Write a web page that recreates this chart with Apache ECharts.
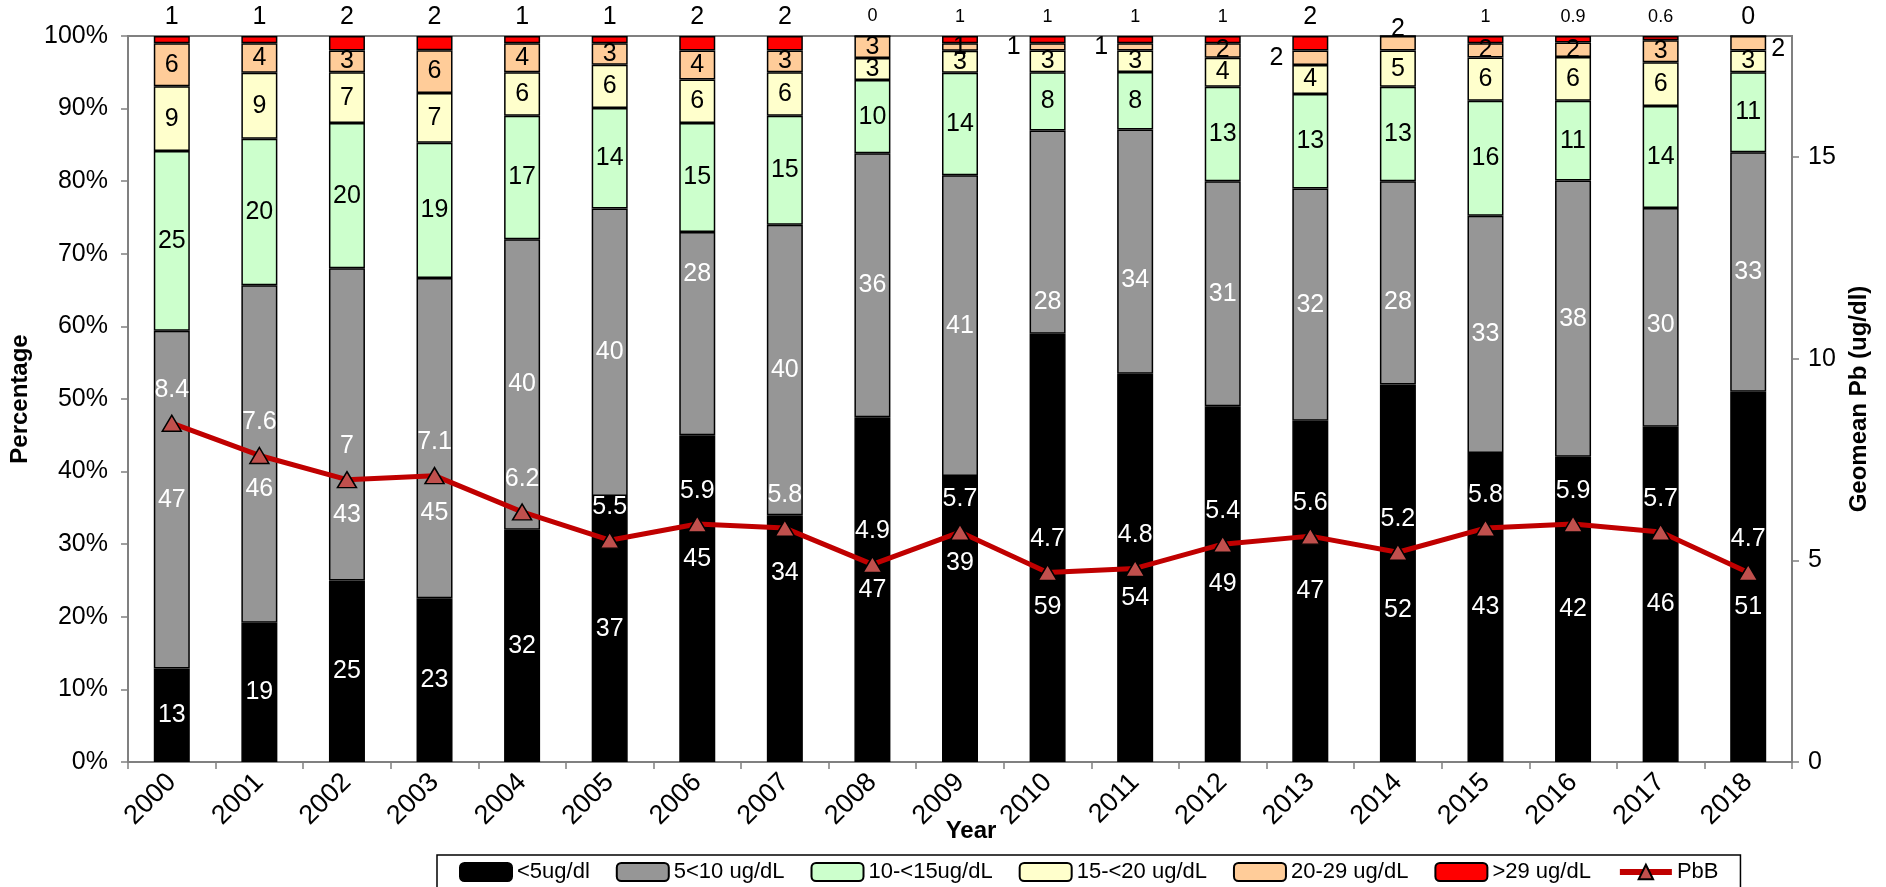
<!DOCTYPE html>
<html>
<head>
<meta charset="utf-8">
<script src="https://cdn.jsdelivr.net/npm/echarts@6/dist/echarts.min.js"></script>
<style>
  html, body { margin: 0; padding: 0; background: #ffffff; }
  #chart { width: 1886px; height: 887px; }
</style>
</head>
<body>
<div id="chart"></div>
<script>
// Blood lead level distribution by year (percent of children tested) and geometric mean PbB
const years = ['2000','2001','2002','2003','2004','2005','2006','2007','2008','2009',
               '2010','2011','2012','2013','2014','2015','2016','2017','2018'];
const below5     = [13, 19, 25, 23, 32, 37, 45, 34, 47, 39, 59, 54, 49, 47, 52, 43, 42, 46, 51];
const from5to10  = [47, 46, 43, 45, 40, 40, 28, 40, 36, 41, 28, 34, 31, 32, 28, 33, 38, 30, 33];
const from10to15 = [25, 20, 20, 19, 17, 14, 15, 15, 10, 14,  8,  8, 13, 13, 13, 16, 11, 14, 11];
const from15to20 = [ 9,  9,  7,  7,  6,  6,  6,  6,  3,  3,  3,  3,  4,  4,  5,  6,  6,  6,  3];
const from20to29 = [ 6,  4,  3,  6,  4,  3,  4,  3,  3,  1,  1,  1,  2,  2,  2,  2,  2,  3,  2];
const above29    = [ 1,  1,  2,  2,  1,  1,  2,  2,  0,  1,  1,  1,  1,  2,  0,  1, 0.9, 0.6, 0];
const geomeanPb  = [8.4, 7.6, 7, 7.1, 6.2, 5.5, 5.9, 5.8, 4.9, 5.7, 4.7, 4.8, 5.4, 5.6, 5.2, 5.8, 5.9, 5.7, 4.7];
const percentAxis = { min: 0, max: 100, interval: 10 };
const pbAxis = { min: 0, max: 18, interval: 5 };

const FONT = '"Liberation Sans", Arial, sans-serif';

// label adjustments, so segment labels stay clear of the PbB labels
const blackLabelShift = { 6: -40, 7: -65, 9: -56, 10: 59, 11: 30, 14: 37, 17: 10, 18: 30 };
const grayLabelShift  = { 1: 35, 2: 91, 3: 75, 6: -60, 10: 70, 11: 28, 14: 19, 17: 8 };
const peachLabelSide  = { 10: 'left', 11: 'left', 13: 'left', 14: 'top', 18: 'right' };
const smallTopLabels  = [8, 9, 10, 11, 12, 15, 16, 17];
const hiddenTopLabels = [14];

const bands = [
  { name: '<5ug/dl',      values: below5,     color: '#000000', text: '#ffffff' },
  { name: '5<10 ug/dL',   values: from5to10,  color: '#969696', text: '#ffffff' },
  { name: '10-<15ug/dL',  values: from10to15, color: '#CCFFCC', text: '#000000' },
  { name: '15-<20 ug/dL', values: from15to20, color: '#FFFFCC', text: '#000000' },
  { name: '20-29 ug/dL',  values: from20to29, color: '#FFCC99', text: '#000000' },
  { name: '>29 ug/dL',    values: above29,    color: '#FF0000', text: '#000000' }
];

// each column is shown as a 100% stack
const totals = years.map((_, i) => bands.reduce((s, b) => s + b.values[i], 0));

function itemLabel(k, i) {
  if (k === 0 && blackLabelShift[i]) return { offset: [0, blackLabelShift[i]] };
  if (k === 1 && grayLabelShift[i]) return { offset: [0, grayLabelShift[i]] };
  if (k === 4 && peachLabelSide[i]) {
    const side = peachLabelSide[i];
    if (side === 'top') return { position: 'top', distance: -6 };
    if (side === 'right') return { position: 'right', distance: 5, offset: [0, 6] };
    return { position: side, distance: 9 };
  }
  if (k === 5 && hiddenTopLabels.indexOf(i) >= 0) return { show: false };
  if (k === 5 && smallTopLabels.indexOf(i) >= 0) return { fontSize: 18, distance: 10 };
  return null;
}

const barSeries = bands.map((b, k) => ({
  name: b.name,
  type: 'bar',
  stack: 'share',
  barWidth: 36,
  emphasis: { disabled: true },
  itemStyle: { color: b.color, borderColor: '#000000', borderWidth: 1.5 },
  label: {
    show: true,
    position: k === 5 ? 'top' : 'inside',
    distance: 6,
    color: b.text,
    fontSize: 25,
    fontFamily: FONT,
    formatter: p => String(p.data.raw)
  },
  data: b.values.map((v, i) => {
    const item = { value: v / totals[i] * 100, raw: v };
    const lab = itemLabel(k, i);
    if (lab) item.label = lab;
    return item;
  })
}));

const lineSeries = {
  name: 'PbB',
  type: 'line',
  yAxisIndex: 1,
  z: 10,
  data: geomeanPb,
  symbol: 'triangle',
  symbolSize: [19, 16],
  emphasis: { disabled: true },
  lineStyle: { color: '#C00000', width: 5 },
  itemStyle: { color: '#C0504D', borderColor: '#000000', borderWidth: 1.5 },
  label: { show: true, position: 'top', distance: 12, color: '#ffffff', fontSize: 25, fontFamily: FONT }
};

const chart = echarts.init(document.getElementById('chart'), null, { renderer: 'canvas' });
chart.setOption({
  animation: false,
  backgroundColor: '#ffffff',
  textStyle: { fontFamily: FONT },
  grid: {
    left: 126, right: 94, top: 36, bottom: 125,
    show: true, borderColor: '#808080', borderWidth: 2, backgroundColor: 'transparent'
  },
  legend: {
    left: 437, top: 855,
    padding: [6, 22],
    itemWidth: 52, itemHeight: 18, itemGap: 26,
    borderColor: '#000000', borderWidth: 1.5, backgroundColor: '#ffffff',
    lineStyle: { width: 6 },
    textStyle: { fontSize: 22, color: '#000000', fontFamily: FONT },
    data: bands.map(b => b.name).concat(['PbB'])
  },
  xAxis: {
    type: 'category',
    data: years,
    name: 'Year',
    nameLocation: 'middle',
    nameGap: 57,
    nameMoveOverlap: false,
    nameTextStyle: { fontSize: 24, fontWeight: 'bold', color: '#000000', padding: [0, 0, 0, 22] },
    axisLine: { lineStyle: { color: '#808080', width: 2 } },
    axisTick: { show: true, length: 7, lineStyle: { color: '#808080', width: 1.5 } },
    axisLabel: { rotate: 45, fontSize: 27, color: '#000000', margin: 16, interval: 0 },
    splitLine: { show: false }
  },
  yAxis: [
    {
      type: 'value',
      min: percentAxis.min, max: percentAxis.max, interval: percentAxis.interval,
      name: 'Percentage',
      nameLocation: 'middle',
      nameRotate: 90,
      nameGap: 96,
      nameMoveOverlap: false,
      nameTextStyle: { fontSize: 24, fontWeight: 'bold', color: '#000000' },
      axisLine: { show: true, lineStyle: { color: '#808080', width: 2 } },
      axisTick: { show: true, length: 7, lineStyle: { color: '#808080', width: 1.5 } },
      axisLabel: { formatter: '{value}%', fontSize: 25, color: '#000000', margin: 20 },
      splitLine: { show: false }
    },
    {
      type: 'value',
      position: 'right',
      min: pbAxis.min, max: pbAxis.max, interval: pbAxis.interval,
      name: 'Geomean Pb (ug/dl)',
      nameLocation: 'middle',
      nameRotate: 90,
      nameGap: 55,
      nameMoveOverlap: false,
      nameTextStyle: { fontSize: 24, fontWeight: 'bold', color: '#000000' },
      axisLine: { show: true, lineStyle: { color: '#808080', width: 2 } },
      axisTick: { show: true, length: 7, lineStyle: { color: '#808080', width: 1.5 } },
      axisLabel: { fontSize: 25, color: '#000000', margin: 16, showMaxLabel: false },
      splitLine: { show: false }
    }
  ],
  series: barSeries.concat([lineSeries])
});
</script>
</body>
</html>
